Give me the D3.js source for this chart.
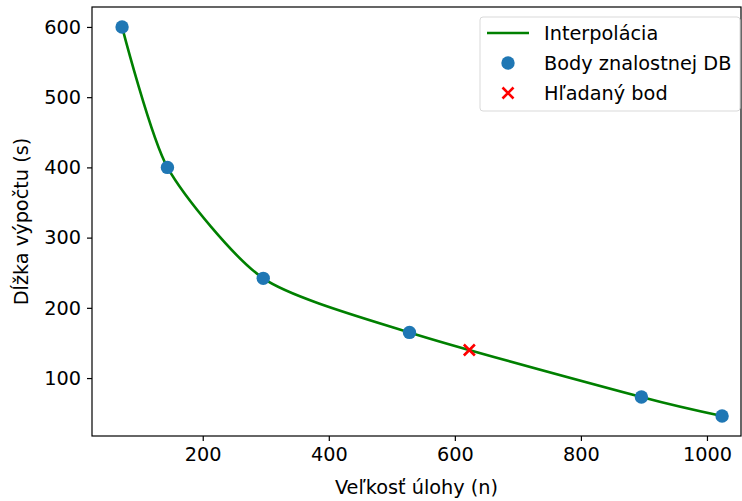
<!DOCTYPE html>
<html>
<head>
<meta charset="utf-8">
<script src="https://cdn.jsdelivr.net/npm/d3@7"></script>
<style>
  body { margin: 0; background: #fff; }
  svg { display: block; font-family: "DejaVu Sans", sans-serif; }
</style>
</head>
<body>
<svg id="chart" width="742" height="501"></svg>
<script>
// knowledge-base points (task size n, computation time s)
const sizes = [72, 144, 296, 528, 896, 1024];
const times = [600, 400, 242, 165, 73, 46];
// searched point
const queryX = [623];
const queryY = [140];
const xTicks = [200, 400, 600, 800, 1000];
const yTicks = [100, 200, 300, 400, 500, 600];
const legendLabels = ['Interpolácia', 'Body znalostnej DB', 'Hľadaný bod'];

const width = 742, height = 501;
const margin = { top: 7, right: 1, bottom: 65, left: 92 };
const fontSize = 19.3;

const svg = d3.select('#chart');

const x = d3.scaleLinear()
  .domain([24.3, 1054])
  .range([margin.left, width - margin.right]);

const y = d3.scaleLinear()
  .domain([17.5, 628.4])
  .range([height - margin.bottom, margin.top]);

const pts = sizes.map((n, i) => ({ n, t: times[i] }));

// interpolation line through the points
const line = d3.line()
  .curve(d3.curveCardinal.tension(0.3))
  .x(d => x(d.n))
  .y(d => y(d.t));

svg.append('path')
  .datum(pts)
  .attr('fill', 'none')
  .attr('stroke', '#008000')
  .attr('stroke-width', 2.6)
  .attr('d', line);

svg.append('g')
  .selectAll('circle')
  .data(pts)
  .join('circle')
    .attr('cx', d => x(d.n))
    .attr('cy', d => y(d.t))
    .attr('r', 6.7)
    .attr('fill', '#1f77b4');

// red cross marker
const cross = (cx, cy, s) => `M${cx - s},${cy - s}L${cx + s},${cy + s}M${cx - s},${cy + s}L${cx + s},${cy - s}`;
svg.append('g')
  .selectAll('path')
  .data(queryX.map((v, i) => ({ n: v, t: queryY[i] })))
  .join('path')
    .attr('d', d => cross(x(d.n), y(d.t), 5.5))
    .attr('stroke', '#ff0000')
    .attr('stroke-width', 2.6)
    .attr('fill', 'none');

// axes
const xAxis = svg.append('g')
  .attr('transform', `translate(0,${height - margin.bottom})`)
  .call(d3.axisBottom(x).tickValues(xTicks).tickSize(5).tickPadding(6).tickFormat(d3.format('d')));

const yAxis = svg.append('g')
  .attr('transform', `translate(${margin.left},0)`)
  .call(d3.axisLeft(y).tickValues(yTicks).tickSize(5).tickPadding(6).tickFormat(d3.format('d')));

[xAxis, yAxis].forEach(g => {
  g.select('.domain').remove();
  g.selectAll('.tick line').attr('stroke', '#000').attr('stroke-width', 1.2);
  g.selectAll('.tick text')
    .attr('fill', '#000')
    .attr('font-size', fontSize)
    .attr('font-family', '"DejaVu Sans", sans-serif');
});

// frame
svg.append('rect')
  .attr('x', margin.left)
  .attr('y', margin.top)
  .attr('width', width - margin.left - margin.right)
  .attr('height', height - margin.top - margin.bottom)
  .attr('fill', 'none')
  .attr('stroke', '#000')
  .attr('stroke-width', 1.2);

// axis titles
svg.append('text')
  .attr('x', (margin.left + width - margin.right) / 2)
  .attr('y', 494)
  .attr('text-anchor', 'middle')
  .attr('font-size', fontSize)
  .text('Veľkosť úlohy (n)');

svg.append('text')
  .attr('transform', `translate(28,${(margin.top + height - margin.bottom) / 2}) rotate(-90)`)
  .attr('text-anchor', 'middle')
  .attr('font-size', fontSize)
  .text('Dĺžka výpočtu (s)');

// legend
const lg = svg.append('g').attr('transform', 'translate(480,17)');
lg.append('rect')
  .attr('width', 260)
  .attr('height', 94)
  .attr('rx', 3)
  .attr('fill', '#fff')
  .attr('fill-opacity', 0.8)
  .attr('stroke', '#d9d9d9')
  .attr('stroke-width', 1);

lg.append('line')
  .attr('x1', 7).attr('x2', 49)
  .attr('y1', 16).attr('y2', 16)
  .attr('stroke', '#008000')
  .attr('stroke-width', 2.6);
lg.append('circle')
  .attr('cx', 28).attr('cy', 46).attr('r', 6.7)
  .attr('fill', '#1f77b4');
lg.append('path')
  .attr('d', cross(28, 76, 5.5))
  .attr('stroke', '#ff0000')
  .attr('stroke-width', 2.6);

lg.selectAll('text.lab')
  .data(legendLabels)
  .join('text')
    .attr('class', 'lab')
    .attr('x', 64)
    .attr('y', (d, i) => 16 + i * 30)
    .attr('dy', '0.35em')
    .attr('font-size', fontSize)
    .text(d => d);
</script>
</body>
</html>
